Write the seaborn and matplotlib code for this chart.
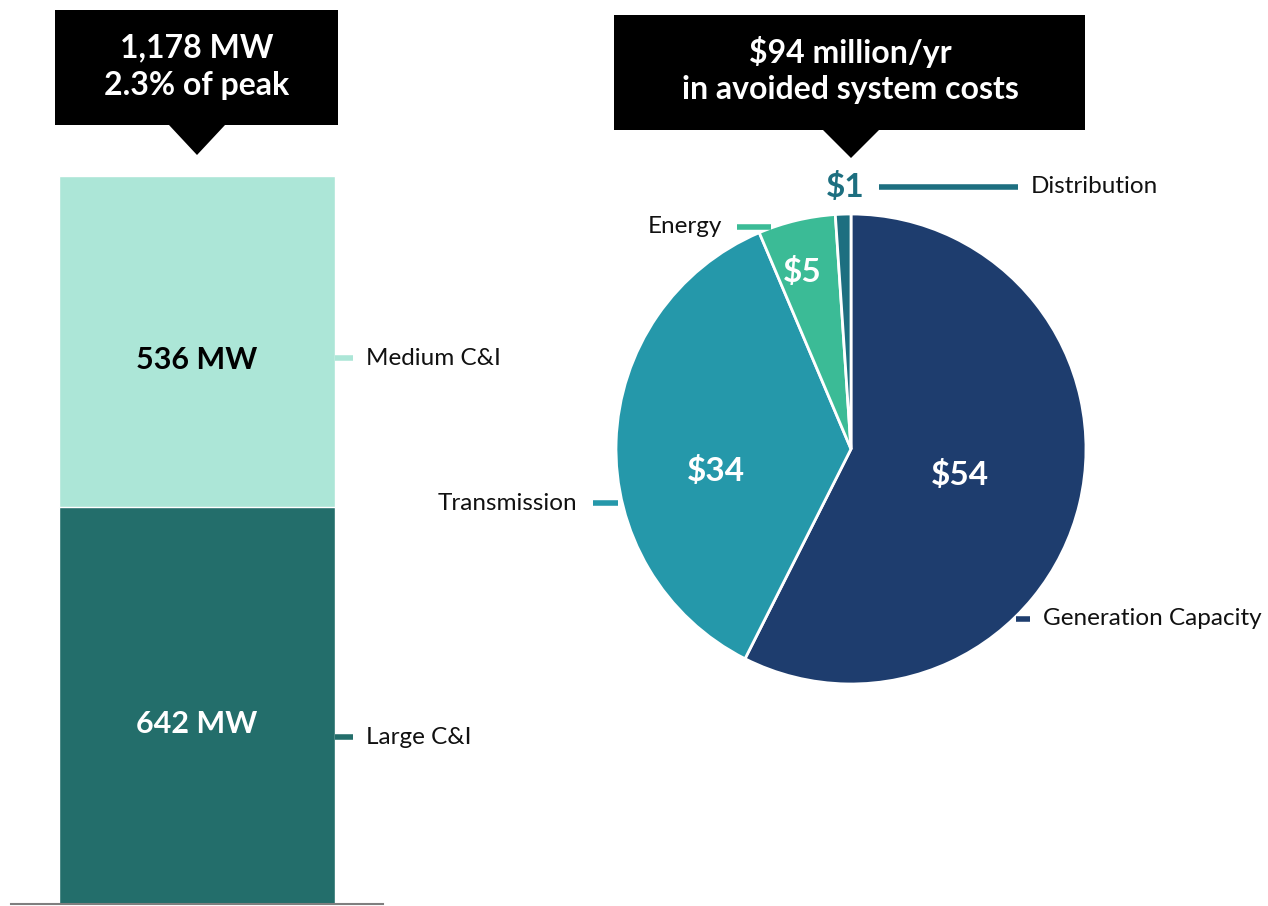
import numpy as np
import matplotlib
matplotlib.use("Agg")
import matplotlib.pyplot as plt
from matplotlib.patches import Polygon
import seaborn as sns

# ---- data ----
segments = ["Large C&I", "Medium C&I"]
segment_mw = [642, 536]
bar_colors = ["#236e6b", "#ace6d7"]
peak_share = "2.3% of peak"

cost_labels = ["Generation Capacity", "Transmission", "Energy", "Distribution"]
cost_values = [54, 34, 5, 1]
cost_colors = ["#1e3d6e", "#2598aa", "#3bbb96", "#1d6f80"]

sns.set_theme(style="white")
plt.rcParams["font.family"] = ["Lato", "DejaVu Sans"]

W, H = 1268, 906
fig = plt.figure(figsize=(W / 100, H / 100), dpi=100)


def px_axes(x0, y0, x1, y1):
    # axes box from pixel corners (top-left origin)
    return fig.add_axes([x0 / W, (H - y1) / H, (x1 - x0) / W, (y1 - y0) / H])


# ---- stacked bar ----
total = sum(segment_mw)
axb = px_axes(11, 176, 383, 904)
sns.barplot(x=["C&I"], y=[total], color=bar_colors[1], width=0.742,
            saturation=1, ax=axb)
sns.barplot(x=["C&I"], y=[segment_mw[0]], color=bar_colors[0], width=0.742,
            saturation=1, ax=axb)
axb.set_xlim(-0.5, 0.5)
axb.set_ylim(0, total)
axb.set_xticks([])
axb.set_yticks([])
axb.set_xlabel("")
axb.set_ylabel("")
for s in ["top", "left", "right"]:
    axb.spines[s].set_visible(False)
axb.spines["bottom"].set_color("#7f7f7f")
axb.spines["bottom"].set_linewidth(1.5)

bottoms = [0, segment_mw[0]]
txt_colors = ["white", "black"]
tick_frac = [0.42, 0.45]
for name, val, b, c, tc, tf in zip(segments, segment_mw, bottoms, bar_colors,
                                    txt_colors, tick_frac):
    axb.text(0, b + val / 2 - 30, f"{val} MW", ha="center", va="center",
             fontsize=22, fontweight="bold", color=tc)
    yy = b + val * tf
    axb.plot([0.371, 0.42], [yy, yy], color=c, lw=4, clip_on=False,
             solid_capstyle="butt")
    axb.text(0.455, yy, name, ha="left", va="center", fontsize=17.5,
             color="#111111", clip_on=False)

# ---- pie ----
axp = px_axes(616, 214, 1086, 684)
wedges, _ = axp.pie(cost_values, colors=cost_colors, startangle=90,
                    counterclock=False, radius=1,
                    wedgeprops=dict(edgecolor="white", linewidth=2))
axp.set_xlim(-1, 1)
axp.set_ylim(-1, 1)
axp.set_aspect("equal")
axp.axis("off")

inside = {0: (0.475, 0.0), 1: (0.58, -11.0), 2: (0.78, -2.0)}
for i, w in enumerate(wedges):
    mid = np.deg2rad((w.theta1 + w.theta2) / 2)
    if i in inside:
        r, da = inside[i]
        ang = mid - np.deg2rad(da)
        axp.text(r * np.cos(ang), r * np.sin(ang), f"${cost_values[i]}",
                 ha="center", va="center", fontsize=24, fontweight="bold",
                 color="white")

# outer labels with leader lines (pie data units)
axp.text(-0.026, 1.115, f"${cost_values[3]}", ha="center", va="center",
         fontsize=24, fontweight="bold", color=cost_colors[3], clip_on=False)
axp.plot([0.12, 0.71], [1.115, 1.115], color=cost_colors[3], lw=4,
         clip_on=False, solid_capstyle="butt")
axp.text(0.765, 1.115, cost_labels[3], ha="left", va="center", fontsize=17.5,
         color="#111111", clip_on=False)

axp.plot([-0.485, -0.34], [0.945, 0.945], color=cost_colors[2], lw=4,
         clip_on=False, solid_capstyle="butt")
axp.text(-0.55, 0.945, cost_labels[2], ha="right", va="center", fontsize=17.5,
         color="#111111", clip_on=False)

axp.plot([-1.10, -0.99], [-0.23, -0.23], color=cost_colors[1], lw=4,
         clip_on=False, solid_capstyle="butt", zorder=0)
axp.text(-1.165, -0.23, cost_labels[1], ha="right", va="center", fontsize=17.5,
         color="#111111", clip_on=False)

axp.plot([0.70, 0.76], [-0.723, -0.723], color=cost_colors[0], lw=4,
         clip_on=False, solid_capstyle="butt")
axp.text(0.815, -0.723, cost_labels[0], ha="left", va="center", fontsize=17.5,
         color="#111111", clip_on=False)

# ---- callout boxes ----
ov = fig.add_axes([0, 0, 1, 1], zorder=5)
ov.set_xlim(0, W)
ov.set_ylim(H, 0)
ov.axis("off")
ov.patch.set_alpha(0)


def callout(x0, x1, y0, y1, tip_x, tip_y, half):
    pts = [(x0, y0), (x1, y0), (x1, y1), (tip_x + half, y1), (tip_x, tip_y),
           (tip_x - half, y1), (x0, y1)]
    ov.add_patch(Polygon(pts, closed=True, facecolor="black", edgecolor="none"))


callout(55, 338, 10, 125, 197, 155, 28)
ov.text(197, 48, f"{total:,} MW", ha="center", va="center", fontsize=23,
        fontweight="bold", color="white")
ov.text(197, 86, peak_share, ha="center", va="center", fontsize=23,
        fontweight="bold", color="white")

callout(614, 1085, 15, 130, 851, 158, 28)
ov.text(850, 52, f"${sum(cost_values)} million/yr", ha="center", va="center",
        fontsize=23, fontweight="bold", color="white")
ov.text(850, 90, "in avoided system costs", ha="center", va="center",
        fontsize=23, fontweight="bold", color="white")

fig.savefig("out.png", dpi=100)
